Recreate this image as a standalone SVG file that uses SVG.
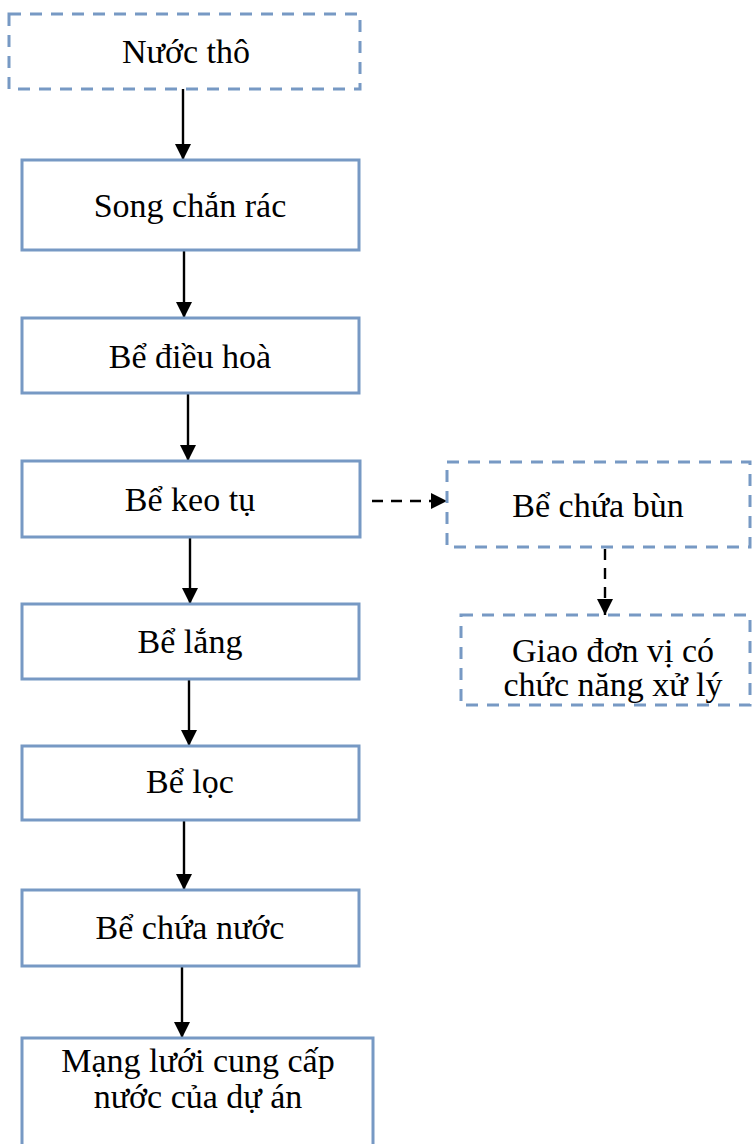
<svg xmlns="http://www.w3.org/2000/svg" width="752" height="1144" viewBox="0 0 752 1144">
<style>
.box{fill:#ffffff;stroke:#7799c4;stroke-width:3}
.dbox{fill:#ffffff;stroke:#7799c4;stroke-width:3;stroke-dasharray:12 9}
.t{font-family:"Liberation Serif","Times New Roman",serif;font-size:34px;fill:#000;text-anchor:middle}
.c{stroke:#000;stroke-width:2.4;fill:none}
.cd{stroke:#000;stroke-width:2.4;fill:none;stroke-dasharray:11 8}
</style>
<defs>
<marker id="ah" markerUnits="userSpaceOnUse" markerWidth="18" markerHeight="18" refX="16" refY="8" orient="auto">
<path d="M0,0 L16,8 L0,16 Z" fill="#000"/>
</marker>
</defs>
<g id="connectors">
<line class="c" x1="183" y1="89" x2="183" y2="160" marker-end="url(#ah)"/>
<line class="c" x1="184" y1="250" x2="184" y2="318" marker-end="url(#ah)"/>
<line class="c" x1="188" y1="393" x2="188" y2="461" marker-end="url(#ah)"/>
<line class="c" x1="190" y1="537" x2="190" y2="604" marker-end="url(#ah)"/>
<line class="c" x1="189" y1="679" x2="189" y2="746" marker-end="url(#ah)"/>
<line class="c" x1="184" y1="820" x2="184" y2="890" marker-end="url(#ah)"/>
<line class="c" x1="182" y1="966" x2="182" y2="1038" marker-end="url(#ah)"/>
<line class="cd" x1="372" y1="501" x2="447" y2="501" marker-end="url(#ah)"/>
<line class="cd" x1="605" y1="549" x2="605" y2="615" marker-end="url(#ah)"/>
</g>
<g id="n-nuoctho">
<rect class="dbox" x="9" y="14" width="351" height="75"/>
<text class="t" x="186" y="63">Nước thô</text>
</g>
<g id="n-song">
<rect class="box" x="22" y="160" width="337" height="90"/>
<text class="t" x="190" y="217">Song chắn rác</text>
</g>
<g id="n-dieuhoa">
<rect class="box" x="22" y="318" width="337" height="75"/>
<text class="t" x="190" y="368">Bể điều hoà</text>
</g>
<g id="n-keotu">
<rect class="box" x="22" y="461" width="338" height="76"/>
<text class="t" x="190" y="511">Bể keo tụ</text>
</g>
<g id="n-chuabun">
<rect class="dbox" x="447" y="462" width="303" height="85"/>
<text class="t" x="598" y="517">Bể chứa bùn</text>
</g>
<g id="n-giao">
<rect class="dbox" x="461" y="615" width="289" height="90"/>
<text class="t" x="613" y="662">Giao đơn vị có</text>
<text class="t" x="613" y="696">chức năng xử lý</text>
</g>
<g id="n-lang">
<rect class="box" x="22" y="604" width="337" height="75"/>
<text class="t" x="190" y="653">Bể lắng</text>
</g>
<g id="n-loc">
<rect class="box" x="22" y="746" width="337" height="74"/>
<text class="t" x="190" y="793">Bể lọc</text>
</g>
<g id="n-chuanuoc">
<rect class="box" x="22" y="890" width="337" height="76"/>
<text class="t" x="190" y="939">Bể chứa nước</text>
</g>
<g id="n-mangluoi">
<rect class="box" x="22" y="1038" width="351" height="120"/>
<text class="t" x="198" y="1072">Mạng lưới cung cấp</text>
<text class="t" x="198" y="1108">nước của dự án</text>
</g>
</svg>
